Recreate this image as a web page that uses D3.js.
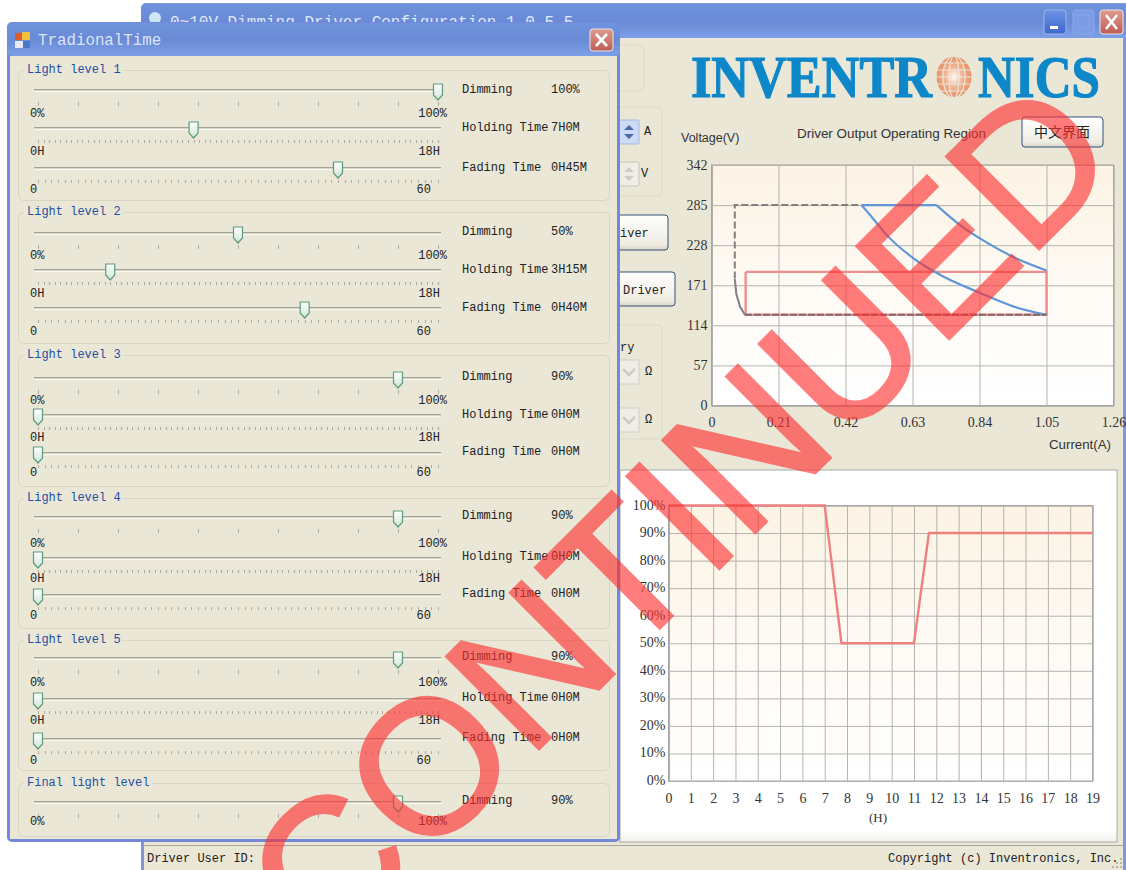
<!DOCTYPE html>
<html>
<head>
<meta charset="utf-8">
<script src="https://cdn.jsdelivr.net/npm/d3@7"></script>
<style>
  html, body { margin: 0; padding: 0; background: #fff; }
  svg { display: block; }
  .mono { font-family: "Liberation Mono", monospace; font-size: 12px; fill: #222; }
  .legend { font-family: "Liberation Mono", monospace; font-size: 12px; fill: #1f4fa3; }
  .sans { font-family: "Liberation Sans", sans-serif; font-size: 12.5px; fill: #333; }
  .tick text { font-family: "Liberation Serif", serif; font-size: 14px; fill: #333; }
  .tick line { stroke: #b4b3ae; }
  .domain { stroke: #a0a0a0; }
</style>
</head>
<body>
<svg id="chart" width="1126" height="870"></svg>
<script>
(function (d3) {
  "use strict";

  // dialog values
  const levelNames = ["Light level 1", "Light level 2", "Light level 3", "Light level 4", "Light level 5", "Final light level"];
  const dimming = [100, 50, 90, 90, 90, 90];
  const holdHours = [7, 3.25, 0, 0, 0];
  const fadeMinutes = [45, 40, 0, 0, 0];

  // operating region chart (current A, voltage V)
  const regionXTicks = [0, 0.21, 0.42, 0.63, 0.84, 1.05, 1.26];
  const regionYTicks = [0, 57, 114, 171, 228, 285, 342];
  const dashedI = [0.46, 0.073, 0.073];
  const dashedV = [285, 285, 180];
  const kneeI = [0.073, 0.078, 0.09, 0.105];
  const kneeV = [180, 158, 140, 129];
  const floorI = [0.105, 1.05];
  const floorV = [129, 129];
  const flatI = [0.47, 0.705];
  const flatV = [285, 285];
  const upperI = [0.705, 0.778, 0.862, 0.956, 1.05];
  const upperV = [285, 257, 232, 209, 192];
  const lowerI = [0.47, 0.506, 0.548, 0.631, 0.716, 0.842, 0.945, 1.05];
  const lowerV = [285, 266, 243, 210, 186, 160, 141, 129];
  const boxI = [0.107, 1.05, 1.05, 0.107, 0.107];
  const boxV = [190, 190, 129, 129, 190];

  // dimming profile chart
  const hourTicks = d3.range(0, 20);
  const percentTicks = d3.range(0, 110, 10);
  const profileH = [0, 7, 7.75, 11, 11.67, 19];
  const profileP = [100, 100, 50, 50, 90, 90];

  const svg = d3.select("#chart");
  const defs = svg.append("defs");

  const grad = (id, stops, x2, y2) => {
    const g = defs.append("linearGradient").attr("id", id)
      .attr("x1", 0).attr("y1", 0).attr("x2", x2).attr("y2", y2);
    stops.forEach((s) => g.append("stop").attr("offset", s[0]).attr("stop-color", s[1]));
  };
  grad("titleBar", [[0, "#6f93dc"], [0.5, "#6a8ad6"], [1, "#7c9fe6"]], 0, 1);
  grad("plotBg", [[0, "#fcf3e4"], [0.75, "#fffdfb"], [1, "#ffffff"]], 0, 1);
  grad("btnBg", [[0, "#ffffff"], [0.85, "#eeece2"], [1, "#d8d5c6"]], 0, 1);
  grad("closeBg", [[0, "#df9a8d"], [1, "#bd5d55"]], 0, 1);
  grad("minBg", [[0, "#6d93e4"], [1, "#3c68cc"]], 0, 1);
  grad("thumbBg", [[0, "#ffffff"], [1, "#cfe6d6"]], 0, 1);
  grad("panelBg", [[0, "#ffffff"], [0.97, "#ffffff"], [1, "#efeeea"]], 0, 1);

  const bodyColor = "#eae7d7";

  const rect = (parent, x, y, w, h, fill, stroke, rx) =>
    parent.append("rect").attr("x", x).attr("y", y).attr("width", w).attr("height", h)
      .attr("fill", fill).attr("stroke", stroke || "none").attr("rx", rx || 0);

  const label = (parent, cls, x, y, txt, anchor) =>
    parent.append("text").attr("class", cls).attr("x", x).attr("y", y)
      .attr("text-anchor", anchor || "start").text(txt);

  const closeButton = (parent, x, y, w, h) => {
    rect(parent, x, y, w, h, "url(#closeBg)", "#e6e6ee", 3);
    parent.append("path")
      .attr("d", `M${x + 6},${y + 5}L${x + w - 6},${y + h - 5}M${x + w - 6},${y + 5}L${x + 6},${y + h - 5}`)
      .attr("stroke", "#fff").attr("stroke-width", 2.6);
  };

  // ---- main window behind the dialog ----
  const main = svg.append("g");
  main.append("text").attr("x", 136).attr("y", -3)
    .attr("font-family", "Liberation Sans").attr("font-weight", "bold").attr("font-size", 16).text("g");
  rect(main, 141, 3, 990, 880, "#7f97e0", null, 5);
  rect(main, 141, 4, 990, 34, "url(#titleBar)", null, 5);
  rect(main, 144, 38, 979, 832, bodyColor);
  main.append("circle").attr("cx", 155).attr("cy", 18).attr("r", 6).attr("fill", "#cfe6f5");
  main.append("text").attr("x", 170).attr("y", 27).attr("fill", "#dfe8f8")
    .attr("font-family", "Liberation Mono").attr("font-size", 16)
    .text("0~10V Dimming Driver Configuration 1.0.5.5");
  rect(main, 1044, 10, 22, 24, "url(#minBg)", "#9fb6ee", 3);
  rect(main, 1050, 26, 8, 3, "#fff");
  rect(main, 1073, 10, 21, 24, "#7d9ce6", "#8fa8ea", 3);
  rect(main, 1078, 15, 11, 13, "none", "#8aa4e8");
  closeButton(main, 1100, 10, 23, 24);

  // partly hidden controls
  rect(main, 600, 45, 44, 46, "none", "#dcd9c8", 4);
  rect(main, 600, 107, 62, 89, "none", "#dcd9c8", 4);
  rect(main, 600, 120, 39, 24, "#cdd9f5", "#a9b9dd", 1);
  main.append("path").attr("d", "M624,130l5,-5l5,5zM624,134l5,5l5,-5z").attr("fill", "#4a6aa8");
  label(main, "mono", 644, 135, "A");
  rect(main, 600, 162, 39, 24, "#eeede6", "#c6c5bb", 1);
  main.append("path").attr("d", "M624,172l5,-5l5,5zM624,176l5,5l5,-5z").attr("fill", "#cfcdc2");
  label(main, "mono", 641, 177, "V");
  rect(main, 600, 215, 68, 35, "url(#btnBg)", "#34507c", 3);
  label(main, "mono", 620, 237, "iver");
  rect(main, 600, 272, 75, 34, "url(#btnBg)", "#34507c", 3);
  label(main, "mono", 623, 294, "Driver");
  rect(main, 600, 325, 62, 114, "none", "#dcd9c8", 4);
  label(main, "mono", 620, 351, "ry");
  [360, 408].forEach((y) => {
    rect(main, 600, y, 39, 24, "#eeede6", "#d0cfc6", 1);
    main.append("path").attr("d", `M623,${y + 9}l6,6l6,-6`).attr("fill", "none")
      .attr("stroke", "#cfcdc2").attr("stroke-width", 2.5);
    label(main, "mono", 645, y + 15, "Ω");
  });

  // logo
  const logo = main.append("g").attr("font-family", "Liberation Serif")
    .attr("font-weight", "bold").attr("font-size", 60).attr("fill", "#0e87c9")
    .attr("stroke", "#0e87c9").attr("stroke-width", 1.2);
  logo.append("text").attr("x", 691).attr("y", 97).attr("textLength", 241)
    .attr("lengthAdjust", "spacingAndGlyphs").text("INVENTR");
  logo.append("text").attr("x", 978).attr("y", 97).attr("textLength", 122)
    .attr("lengthAdjust", "spacingAndGlyphs").text("NICS");
  const globeGrad = defs.append("radialGradient").attr("id", "globe");
  globeGrad.append("stop").attr("offset", 0).attr("stop-color", "#ffffff");
  globeGrad.append("stop").attr("offset", 0.45).attr("stop-color", "#f3b79a");
  globeGrad.append("stop").attr("offset", 1).attr("stop-color", "#ea8d63");
  main.append("ellipse").attr("cx", 954).attr("cy", 77).attr("rx", 18).attr("ry", 21).attr("fill", "url(#globe)");
  const globeLines = main.append("g").attr("fill", "none").attr("stroke", bodyColor).attr("stroke-width", 1.2);
  [-14, -7, 0, 7, 14].forEach((d) =>
    globeLines.append("line").attr("x1", 936).attr("x2", 972).attr("y1", 77 + d).attr("y2", 77 + d));
  [5, 11, 18].forEach((r) =>
    globeLines.append("ellipse").attr("cx", 954).attr("cy", 77).attr("rx", r).attr("ry", 21));

  rect(main, 1022, 117, 81, 30, "url(#btnBg)", "#34507c", 3);
  main.append("text").attr("x", 1062).attr("y", 137).attr("text-anchor", "middle")
    .attr("font-family", "Noto Sans CJK SC").attr("font-size", 14).attr("fill", "#222").text("中文界面");
  label(main, "sans", 681, 142, "Voltage(V)");
  main.append("text").attr("class", "sans").attr("x", 797).attr("y", 138)
    .attr("textLength", 189).attr("lengthAdjust", "spacingAndGlyphs").text("Driver Output Operating Region");
  main.append("text").attr("class", "sans").attr("x", 1049).attr("y", 449)
    .attr("textLength", 62).attr("lengthAdjust", "spacingAndGlyphs").text("Current(A)");

  // ---- operating region chart ----
  const regionX = d3.scaleLinear().domain([0, 1.26]).range([711.5, 1113.5]);
  const regionY = d3.scaleLinear().domain([0, 342]).range([405.5, 165]);
  rect(main, 711.5, 165, 402, 240.5, "url(#plotBg)", "#a0a0a0");

  const xAxisTop = main.append("g").attr("transform", "translate(0,405.5)")
    .call(d3.axisBottom(regionX).tickValues(regionXTicks).tickFormat((d) => String(d))
      .tickSize(-240.5).tickPadding(9));
  const yAxisTop = main.append("g").attr("transform", "translate(711.5,0)")
    .call(d3.axisLeft(regionY).tickValues(regionYTicks).tickSize(-402).tickPadding(4));
  xAxisTop.selectAll(".tick text").attr("dy", "0.9em");
  yAxisTop.selectAll(".tick text").attr("dy", "0.3em");

  const pairs = (a, b) => a.map((v, i) => [v, b[i]]);
  const drawRegion = (xs, ys, color, width, dash, curve) =>
    main.append("path")
      .attr("d", d3.line().x((d) => regionX(d[0])).y((d) => regionY(d[1])).curve(curve || d3.curveLinear)(pairs(xs, ys)))
      .attr("fill", "none").attr("stroke", color).attr("stroke-width", width)
      .attr("stroke-dasharray", dash || null);

  drawRegion(boxI, boxV, "#ee8f8f", 2.4);
  drawRegion(flatI, flatV, "#5f97d8", 2.2);
  drawRegion(upperI, upperV, "#5f97d8", 2.2, null, d3.curveMonotoneX);
  drawRegion(lowerI, lowerV, "#5f97d8", 2.2, null, d3.curveMonotoneX);
  drawRegion(dashedI, dashedV, "#808080", 2, "7,3");
  drawRegion(kneeI, kneeV, "#808080", 2);
  drawRegion(floorI, floorV, "#806a6a", 2, "7,2");

  // ---- dimming profile chart ----
  rect(main, 620, 470, 497, 372, "url(#panelBg)", "#a9a9a9");
  const hourX = d3.scaleLinear().domain([0, 19]).range([668.5, 1092.5]);
  const percentY = d3.scaleLinear().domain([0, 100]).range([781, 505.5]);
  rect(main, 668.5, 505.5, 424, 275.5, "url(#plotBg)", "#a0a0a0");
  const xAxisLow = main.append("g").attr("transform", "translate(0,781)")
    .call(d3.axisBottom(hourX).tickValues(hourTicks).tickSize(-275.5).tickPadding(9));
  const yAxisLow = main.append("g").attr("transform", "translate(668.5,0)")
    .call(d3.axisLeft(percentY).tickValues(percentTicks).tickFormat((d) => d + "%").tickSize(-424).tickPadding(3));
  xAxisLow.selectAll(".tick text").attr("dy", "0.9em");
  yAxisLow.selectAll(".tick text").attr("dy", "0.25em");
  main.append("text").attr("x", 878).attr("y", 822).attr("text-anchor", "middle")
    .attr("font-family", "Liberation Serif").attr("font-size", 13).attr("fill", "#333").text("(H)");
  main.append("path")
    .attr("d", d3.line().x((d) => hourX(d[0])).y((d) => percentY(d[1]))(pairs(profileH, profileP)))
    .attr("fill", "none").attr("stroke", "#ef8080").attr("stroke-width", 2.4);

  // status bar
  main.append("line").attr("x1", 144).attr("x2", 1123).attr("y1", 845.5).attr("y2", 845.5).attr("stroke", "#a8a698");
  label(main, "mono", 147, 862, "Driver User ID:");
  label(main, "mono", 888, 862, "Copyright (c) Inventronics, Inc.");
  [[1120, 858], [1116, 862], [1120, 862], [1112, 866], [1116, 866], [1120, 866]].forEach((p) =>
    rect(main, p[0], p[1], 2, 2, "#b8b5a6"));

  // ---- TradionalTime dialog ----
  const dlg = svg.append("g");
  rect(dlg, 7, 22, 613, 820, "#7587d8", null, 5);
  rect(dlg, 7, 23, 613, 33, "url(#titleBar)", null, 5);
  rect(dlg, 10, 56, 607, 783, bodyColor);
  rect(dlg, 15, 33, 7, 7, "#e05a30");
  rect(dlg, 22, 32, 8, 8, "#f0c040");
  rect(dlg, 15, 41, 8, 7, "#e8e8f0");
  rect(dlg, 23, 41, 7, 7, "#4a78d0");
  dlg.append("text").attr("x", 38).attr("y", 45).attr("fill", "#dbe5f8")
    .attr("font-family", "Liberation Mono").attr("font-size", 15.8).text("TradionalTime");
  closeButton(dlg, 590, 29, 23, 22);

  // layout of the six groups: box edges and the three track rows
  const groups = [
    { top: 70, bottom: 200, tracks: [90, 128, 168], text: [93, 131, 171], low: [117, 155, 193] },
    { top: 212, bottom: 343, tracks: [233, 270, 308], text: [235, 273, 311], low: [259, 297, 335] },
    { top: 355, bottom: 486, tracks: [378, 415, 453], text: [380, 418, 455], low: [404, 441, 476] },
    { top: 498, bottom: 628, tracks: [517, 558, 595], text: [519, 560, 597], low: [547, 582, 619] },
    { top: 640, bottom: 770, tracks: [658, 699, 739], text: [660, 701, 741], low: [686, 724, 764] },
    { top: 783, bottom: 836, tracks: [802], text: [804], low: [825] }
  ];

  const pctScale = d3.scaleLinear().domain([0, 100]).range([38, 438]);
  const hourScale = d3.scaleLinear().domain([0, 18]).range([38, 438]);
  const minScale = d3.scaleLinear().domain([0, 60]).range([38, 438]);

  const hm = (h) => `${Math.floor(h)}H${Math.round((h % 1) * 60)}M`;
  const fm = (m) => `${Math.floor(m / 60)}H${m}M`;

  const slider = (parent, scale, value, y, tickVals, tickH) => {
    parent.append("rect").attr("x", 34).attr("y", y - 1).attr("width", 407).attr("height", 1.6)
      .attr("fill", "#a5a394");
    parent.append("rect").attr("x", 34).attr("y", y + 0.6).attr("width", 407).attr("height", 1.6)
      .attr("fill", "#f8f7f0");
    parent.selectAll(null).data(tickVals).enter().append("line")
      .attr("x1", (d) => Math.round(scale(d)) + 0.5).attr("x2", (d) => Math.round(scale(d)) + 0.5)
      .attr("y1", y + 12).attr("y2", y + 12 + tickH)
      .attr("stroke", "#aeac9e");
    const tx = scale(value);
    parent.append("path")
      .attr("d", `M${tx - 4.5},${y - 6}h9v11l-4.5,5l-4.5,-5z`)
      .attr("fill", "url(#thumbBg)").attr("stroke", "#5c9c7c").attr("stroke-width", 1.2);
  };

  groups.forEach((g, i) => {
    const gp = dlg.append("g");
    rect(gp, 18.5, g.top + 0.5, 591, g.bottom - g.top, "none", "#d8d5c3", 5);
    const nameW = levelNames[i].length * 7.2 + 6;
    rect(gp, 24, g.top - 6, nameW, 12, bodyColor);
    label(gp, "legend", 27, g.top + 3, levelNames[i]);

    slider(gp, pctScale, dimming[i], g.tracks[0], d3.range(0, 101, 10), 4);
    label(gp, "mono", 30, g.low[0], "0%");
    label(gp, "mono", 447, g.low[0], "100%", "end");
    label(gp, "mono", 462, g.text[0], "Dimming");
    label(gp, "mono", 551, g.text[0], dimming[i] + "%");

    if (i < holdHours.length) {
      slider(gp, hourScale, holdHours[i], g.tracks[1], d3.range(0, 18.01, 0.25), 3);
      label(gp, "mono", 30, g.low[1], "0H");
      label(gp, "mono", 440, g.low[1], "18H", "end");
      label(gp, "mono", 462, g.text[1], "Holding Time");
      label(gp, "mono", 551, g.text[1], hm(holdHours[i]));

      slider(gp, minScale, fadeMinutes[i], g.tracks[2], d3.range(0, 61, 1), 3);
      label(gp, "mono", 30, g.low[2], "0");
      label(gp, "mono", 431, g.low[2], "60", "end");
      label(gp, "mono", 462, g.text[2], "Fading Time");
      label(gp, "mono", 551, g.text[2], fm(fadeMinutes[i]));
    }
  });

  // ---- diagonal stamp across the whole picture ----
  svg.append("text")
    .attr("transform", "translate(1125,163) rotate(-45)")
    .attr("text-anchor", "end")
    .attr("font-family", "Liberation Sans")
    .attr("font-size", 190)
    .attr("fill", "#ff2f2f")
    .attr("stroke", "#ff2f2f")
    .attr("stroke-width", 3)
    .attr("opacity", 0.62)
    .text("CONTINUED");
})(d3);
</script>
</body>
</html>
